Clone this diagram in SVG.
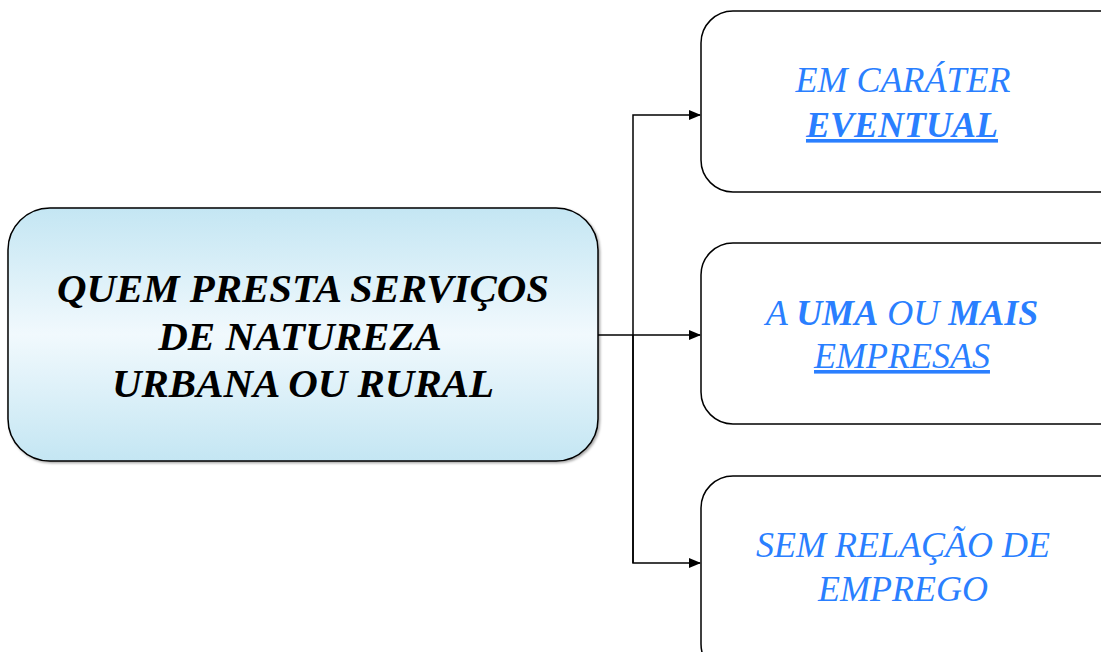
<svg xmlns="http://www.w3.org/2000/svg" width="1101" height="652" viewBox="0 0 1101 652">
<defs>
<linearGradient id="g" x1="0" y1="0" x2="0" y2="1">
<stop offset="0" stop-color="#c4e6f3"/>
<stop offset="0.5" stop-color="#f1f9fd"/>
<stop offset="1" stop-color="#c4e6f3"/>
</linearGradient>
<marker id="arr" markerWidth="12" markerHeight="10" refX="11" refY="5" orient="auto" markerUnits="userSpaceOnUse">
<path d="M0,0 L12,5 L0,10 Z" fill="#000"/>
</marker>
<filter id="sh" x="-5%" y="-5%" width="110%" height="110%">
<feDropShadow dx="1.5" dy="1.5" stdDeviation="1" flood-color="#000" flood-opacity="0.35"/>
</filter>
</defs>
<style>
.box{fill:#fff;stroke:#000;stroke-width:1.5}
.main{fill:url(#g);stroke:#000;stroke-width:1.5}
.mt{font-family:"Liberation Serif","Times New Roman",Tinos,"DejaVu Serif",serif;font-weight:bold;font-style:italic;font-size:41px;fill:#000;text-anchor:middle}
.bt{font-family:"Liberation Serif","Times New Roman",Tinos,"DejaVu Serif",serif;font-style:italic;font-size:36px;fill:#2a7fff;text-anchor:middle}
.b{font-weight:bold}
.u{text-decoration:underline}
.c{fill:none;stroke:#000;stroke-width:1.5}
</style>
<rect width="1101" height="652" fill="#fff"/>
<g id="connectors">
<path class="c" d="M598,335 H700" marker-end="url(#arr)"/>
<path class="c" d="M633,563 V115 H700" marker-end="url(#arr)"/>
<path class="c" d="M633,335 V563 H700" marker-end="url(#arr)"/>
</g>
<g id="main">
<rect class="main" x="8" y="208" width="590" height="253" rx="42" filter="url(#sh)"/>
<text class="mt" x="303" y="302" textLength="492" lengthAdjust="spacingAndGlyphs">QUEM PRESTA SERVIÇOS</text>
<text class="mt" x="300" y="350">DE NATUREZA</text>
<text class="mt" x="303" y="397" textLength="382" lengthAdjust="spacingAndGlyphs">URBANA OU RURAL</text>
</g>
<g id="n1">
<rect class="box" x="701" y="11" width="430" height="181" rx="32"/>
<text class="bt" x="903" y="92">EM CARÁTER</text>
<text class="bt b u" x="902" y="137">EVENTUAL</text>
</g>
<g id="n2">
<rect class="box" x="701" y="243" width="430" height="181" rx="32"/>
<text class="bt" x="902" y="325">A <tspan class="b">UMA</tspan> OU <tspan class="b">MAIS</tspan></text>
<text class="bt u" x="902" y="368">EMPRESAS</text>
</g>
<g id="n3">
<rect class="box" x="701" y="476" width="430" height="200" rx="32"/>
<text class="bt" x="903" y="557">SEM RELAÇÃO DE</text>
<text class="bt" x="903" y="601">EMPREGO</text>
</g>
</svg>
